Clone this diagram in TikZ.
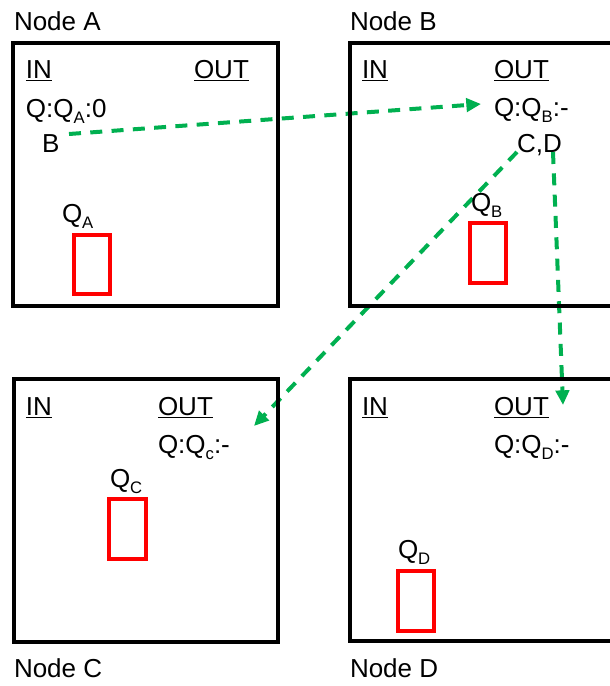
\documentclass[tikz,border=0pt]{standalone}
\usepackage{fontspec}
\setmainfont{Liberation Sans}
\usetikzlibrary{arrows.meta}
\definecolor{flowgreen}{RGB}{0,176,80}
\newcommand{\qsb}[1]{\raisebox{-4.5pt}{\fontsize{12.5}{13}\selectfont #1}}
\begin{document}
\begin{tikzpicture}[x=0.75pt,y=-0.75pt,
  every node/.style={inner sep=0pt, outer sep=0pt, anchor=base west, font=\fontsize{19.5}{22}\selectfont},
  boxframe/.style={draw=black, line width=3pt},
  qframe/.style={draw=red, line width=3pt},
  flow/.style={draw=flowgreen, line width=3pt, dash pattern=on 9pt off 7pt, -{Triangle[length=11pt,width=10pt]}}]
\useasboundingbox (0,0) rectangle (610,686);
% flows
\coordinate (sA) at (69,134);
\coordinate (eB) at (481,104);
\coordinate (sC) at (517,152);
\coordinate (eC) at (254,426);
\coordinate (sD) at (553,152);
\coordinate (eD) at (563,405);
\draw[flow] (sA) -- (eB);
\draw[flow] (sC) -- (eC);
\draw[flow] (sD) -- (eD);
% Node A
\node (labA) at (14,30) {Node A};
\draw[boxframe] (13,43) rectangle (278,306);
\node (inA) at (26,78) {\underline{IN}};
\node (outA) at (194,78) {\underline{OUT}};
\node (qA) at (26,117) {Q:Q\qsb{A}:0};
\node (bA) at (42,152) {B};
\node (lqA) at (62,222) {Q\qsb{A}};
\draw[qframe] (73.5,235) rectangle (109.5,294);
% Node B
\node (labB) at (350,30) {Node B};
\draw[boxframe] (350,43) rectangle (615,306);
\node (inB) at (362,78) {\underline{IN}};
\node (outB) at (494,78) {\underline{OUT}};
\node (qB) at (494,116) {Q:Q\qsb{B}:-};
\node (cdB) at (517,152) {C,D};
\node (lqB) at (471,211) {Q\qsb{B}};
\draw[qframe] (470,223) rectangle (506,283);
% Node C
\node (labC) at (14,677) {Node C};
\draw[boxframe] (14,379) rectangle (278,642);
\node (inC) at (26,415) {\underline{IN}};
\node (outC) at (158,415) {\underline{OUT}};
\node (qC) at (158,453) {Q:Q\qsb{c}:-};
\node (lqC) at (110,487) {Q\qsb{C}};
\draw[qframe] (109,499) rectangle (146,559);
% Node D
\node (labD) at (350,677) {Node D};
\draw[boxframe] (350,379) rectangle (615,641);
\node (inD) at (362,415) {\underline{IN}};
\node (outD) at (494,415) {\underline{OUT}};
\node (qD) at (494,453) {Q:Q\qsb{D}:-};
\node (lqD) at (398,558) {Q\qsb{D}};
\draw[qframe] (398,571) rectangle (434,631);
\end{tikzpicture}
\end{document}
